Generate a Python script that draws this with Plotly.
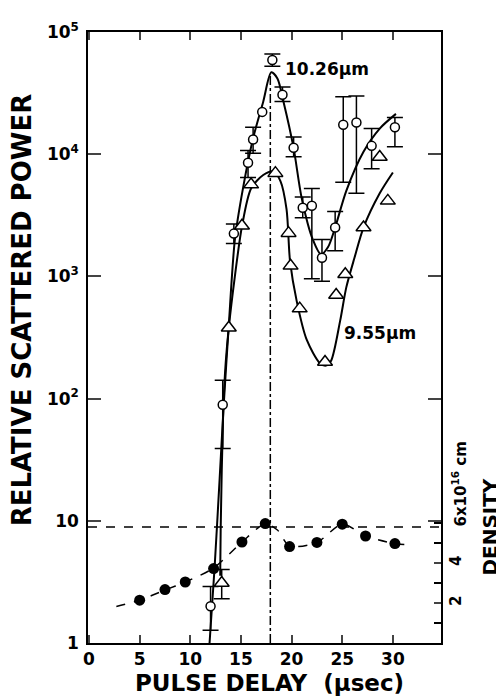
import plotly.graph_objects as go

# ---------------- data ----------------
# 10.26 um measurements (open circles)
circ_x = [12.0, 13.2, 14.3, 15.7, 16.2, 17.1, 18.1, 19.1, 20.2, 21.1, 22.0, 23.0, 24.3, 25.1, 26.4, 27.9, 30.2]
circ_y = [2.0, 89, 2240, 8500, 13200, 22200, 59000, 30700, 11300, 3650, 3780, 1420, 2510, 17400, 18200, 11700, 16600]
circ_hi = [2.9, 141, 2690, 10700, 16600, None, 66000, 35500, 13800, 4470, 5250, 2000, 3390, 29500, 29900, 16200, 19950]
circ_lo = [1.27, 39, 1860, 6460, 10200, None, 52500, 27000, 9550, 3020, 955, 912, 1620, 5890, 4790, 7590, 11500]

# 9.55 um measurements (open triangles)
tri_x = [13.1, 13.8, 15.1, 16.0, 18.4, 19.7, 19.9, 20.8, 23.3, 24.4, 25.3, 27.1, 28.7, 29.5]
tri_y = [3.1, 380, 2600, 5640, 7000, 2260, 1220, 545, 199, 705, 1040, 2510, 9500, 4150]
tri_hi = [4.0, None, None, None, None, None, None, None, None, None, None, None, None, None]
tri_lo = [2.3, None, None, None, None, None, None, None, None, None, None, None, None, None]

# smooth fitted curves (log10 of relative scattered power)
fit1026_x = [11.9, 12.4, 12.9, 13.3, 13.8, 14.4, 15.2, 16.2, 17.2, 18.0, 18.6, 19.2, 20.2, 21.0, 22.1, 22.9, 23.6, 24.3, 25.4, 27.1, 28.7, 30.3]
fit1026_lg = [0.0, 0.62, 1.35, 1.95, 2.6, 3.3, 3.72, 4.13, 4.43, 4.67, 4.62, 4.43, 4.05, 3.64, 3.30, 3.18, 3.24, 3.40, 3.70, 4.02, 4.21, 4.33]
fit955_x = [12.95, 13.0, 13.25, 13.5, 13.8, 14.4, 15.1, 16.0, 17.2, 18.2, 18.9, 19.5, 19.85, 20.5, 21.5, 22.8, 23.4, 23.9, 24.8, 25.4, 26.2, 27.1, 28.7, 30.0]
fit955_lg = [0.55, 0.94, 1.9, 2.3, 2.58, 3.0, 3.41, 3.72, 3.83, 3.86, 3.78, 3.55, 3.12, 2.80, 2.48, 2.29, 2.27, 2.31, 2.64, 2.91, 3.15, 3.40, 3.68, 3.85]

# electron density (filled circles, right axis, units 1e16 cm^-3)
dens_x = [5.0, 7.5, 9.5, 12.3, 15.1, 17.4, 19.8, 22.5, 25.0, 27.3, 30.2]
dens_y = [2.14, 2.67, 3.05, 3.72, 5.05, 5.97, 4.82, 5.03, 5.94, 5.35, 4.97]
dfit_x = [2.7, 5.0, 7.5, 9.5, 12.3, 15.1, 17.4, 18.6, 19.8, 22.5, 25.0, 27.3, 30.2, 31.9]
dfit_y = [1.82, 2.14, 2.65, 3.05, 3.75, 5.05, 5.95, 5.65, 4.85, 5.03, 5.94, 5.35, 4.97, 4.9]

ref_density = 5.8      # horizontal dashed line
peak_delay = 17.9      # vertical dash-dot line
peak_top = 46000

x_ticks = [0, 5, 10, 15, 20, 25, 30]
y_ticks = [1, 10, 100, 1000, 10000, 100000]
y_ticktext = ["1", "10", "10<sup>2</sup>", "10<sup>3</sup>", "10<sup>4</sup>", "10<sup>5</sup>"]
d_ticks = [2, 4]
d_ticktext = ["2", "4"]
d_minor = [1, 3, 5, 6]

# ---------------- figure ----------------
FONT = "DejaVu Sans"
BLACK = "black"
fig = go.Figure()

fig.add_trace(go.Scatter(x=fit1026_x, y=[10 ** v for v in fit1026_lg], mode="lines",
                         line=dict(color=BLACK, width=2, shape="spline", smoothing=0.8),
                         showlegend=False, hoverinfo="skip"))
fig.add_trace(go.Scatter(x=fit955_x, y=[10 ** v for v in fit955_lg], mode="lines",
                         line=dict(color=BLACK, width=2, shape="spline", smoothing=0.8),
                         showlegend=False, hoverinfo="skip"))

# vertical dash-dot
fig.add_trace(go.Scatter(x=[peak_delay, peak_delay], y=[1, peak_top], mode="lines",
                         line=dict(color=BLACK, width=1.5, dash="dashdot"),
                         showlegend=False, hoverinfo="skip"))

# error bars
ex, ey, ep, em = [], [], [], []
for x, y, h, l in zip(circ_x, circ_y, circ_hi, circ_lo):
    if h is not None:
        ex.append(x); ey.append(y); ep.append(h - y); em.append(y - l)
for x, y, h, l in zip(tri_x, tri_y, tri_hi, tri_lo):
    if h is not None:
        ex.append(x); ey.append(y); ep.append(h - y); em.append(y - l)
fig.add_trace(go.Scatter(x=ex, y=ey, mode="markers", marker=dict(size=1, color="rgba(0,0,0,0)"),
                         error_y=dict(type="data", symmetric=False, array=ep, arrayminus=em,
                                      color=BLACK, thickness=1.5, width=8),
                         showlegend=False, hoverinfo="skip"))

fig.add_trace(go.Scatter(x=circ_x, y=circ_y, mode="markers",
                         marker=dict(symbol="circle", size=9, color="white",
                                     line=dict(color=BLACK, width=1.5)),
                         showlegend=False))
fig.add_trace(go.Scatter(x=tri_x, y=tri_y, mode="markers",
                         marker=dict(symbol="triangle-up", size=13, color="white",
                                     line=dict(color=BLACK, width=1.5)),
                         showlegend=False))

# density (right axis)
fig.add_trace(go.Scatter(x=dfit_x, y=dfit_y, mode="lines", yaxis="y2",
                         line=dict(color=BLACK, width=1.5, dash="dash", shape="spline", smoothing=0.8),
                         showlegend=False, hoverinfo="skip"))
fig.add_trace(go.Scatter(x=[-0.1, 34.75], y=[ref_density, ref_density], mode="lines", yaxis="y2",
                         line=dict(color=BLACK, width=1.5, dash="dash"),
                         showlegend=False, hoverinfo="skip"))
fig.add_trace(go.Scatter(x=dens_x, y=dens_y, mode="markers", yaxis="y2",
                         marker=dict(symbol="circle", size=11, color=BLACK),
                         showlegend=False))

axis_font = dict(family=FONT, size=17, color=BLACK, weight="bold")

# the page body adds an 8px offset; margins compensate so the plot area sits at x 88-441, y 26-643
fig.update_layout(
    width=504, height=696,
    margin=dict(l=80, r=71, t=18, b=61),
    paper_bgcolor="white", plot_bgcolor="white",
    font=dict(family=FONT, color=BLACK, weight="bold"),
    xaxis=dict(range=[-0.1, 34.75], tickvals=x_ticks, ticks="inside", ticklen=8, tickwidth=1.5,
               showline=True, linecolor=BLACK, linewidth=1.5, mirror="ticks",
               showgrid=False, zeroline=False, tickfont=axis_font, ticklabelstandoff=0),
    yaxis=dict(type="log", range=[0, 5], tickvals=y_ticks, ticktext=y_ticktext,
               ticks="inside", ticklen=13, tickwidth=1.5,
               showline=True, linecolor=BLACK, linewidth=1.5, mirror="ticks",
               showgrid=False, zeroline=False, tickfont=axis_font, ticklabelstandoff=4),
    yaxis2=dict(overlaying="y", side="right", range=[0, 30.55], tickvals=d_ticks, ticktext=d_ticktext,
                ticks="inside", ticklen=7, tickwidth=1.5, tickangle=-90,
                minor=dict(tickvals=d_minor, ticks="inside", ticklen=7, tickwidth=1.5, tickcolor=BLACK,
                           showgrid=False),
                showline=False, showgrid=False, zeroline=False,
                tickfont=dict(family=FONT, size=15, color=BLACK, weight="bold"), ticklabelstandoff=4),
    showlegend=False,
)

ann = [
    dict(x=19.2, y=4.70, xref="x", yref="y", text="10.26μm", showarrow=False,
         xanchor="left", yanchor="middle", font=dict(family=FONT, size=17, color=BLACK, weight="bold")),
    dict(x=24.95, y=2.54, xref="x", yref="y", text="9.55μm", showarrow=False,
         xanchor="left", yanchor="middle", font=dict(family=FONT, size=17, color=BLACK, weight="bold")),
    dict(x=-0.186, y=0.545, xref="paper", yref="paper", text="RELATIVE SCATTERED POWER", showarrow=False,
         textangle=-90, xanchor="center", yanchor="middle",
         font=dict(family=FONT, size=26, color=BLACK, weight="bold")),
    dict(x=0.513, y=-0.066, xref="paper", yref="paper", text="PULSE DELAY  (μsec)", showarrow=False,
         xanchor="center", yanchor="middle", font=dict(family=FONT, size=23, color=BLACK, weight="bold")),
    dict(x=1.138, y=0.19, xref="paper", yref="paper", text="DENSITY", showarrow=False,
         textangle=-90, xanchor="center", yanchor="middle",
         font=dict(family=FONT, size=20, color=BLACK, weight="bold")),
    dict(x=1.0, y=6, xref="paper", yref="y2", text="6x10<sup>16</sup> cm", showarrow=False,
         textangle=-90, xanchor="left", yanchor="bottom", xshift=6, yshift=-6,
         font=dict(family=FONT, size=15, color=BLACK, weight="bold")),
]
fig.update_layout(annotations=ann)

fig.write_html("out.html")
